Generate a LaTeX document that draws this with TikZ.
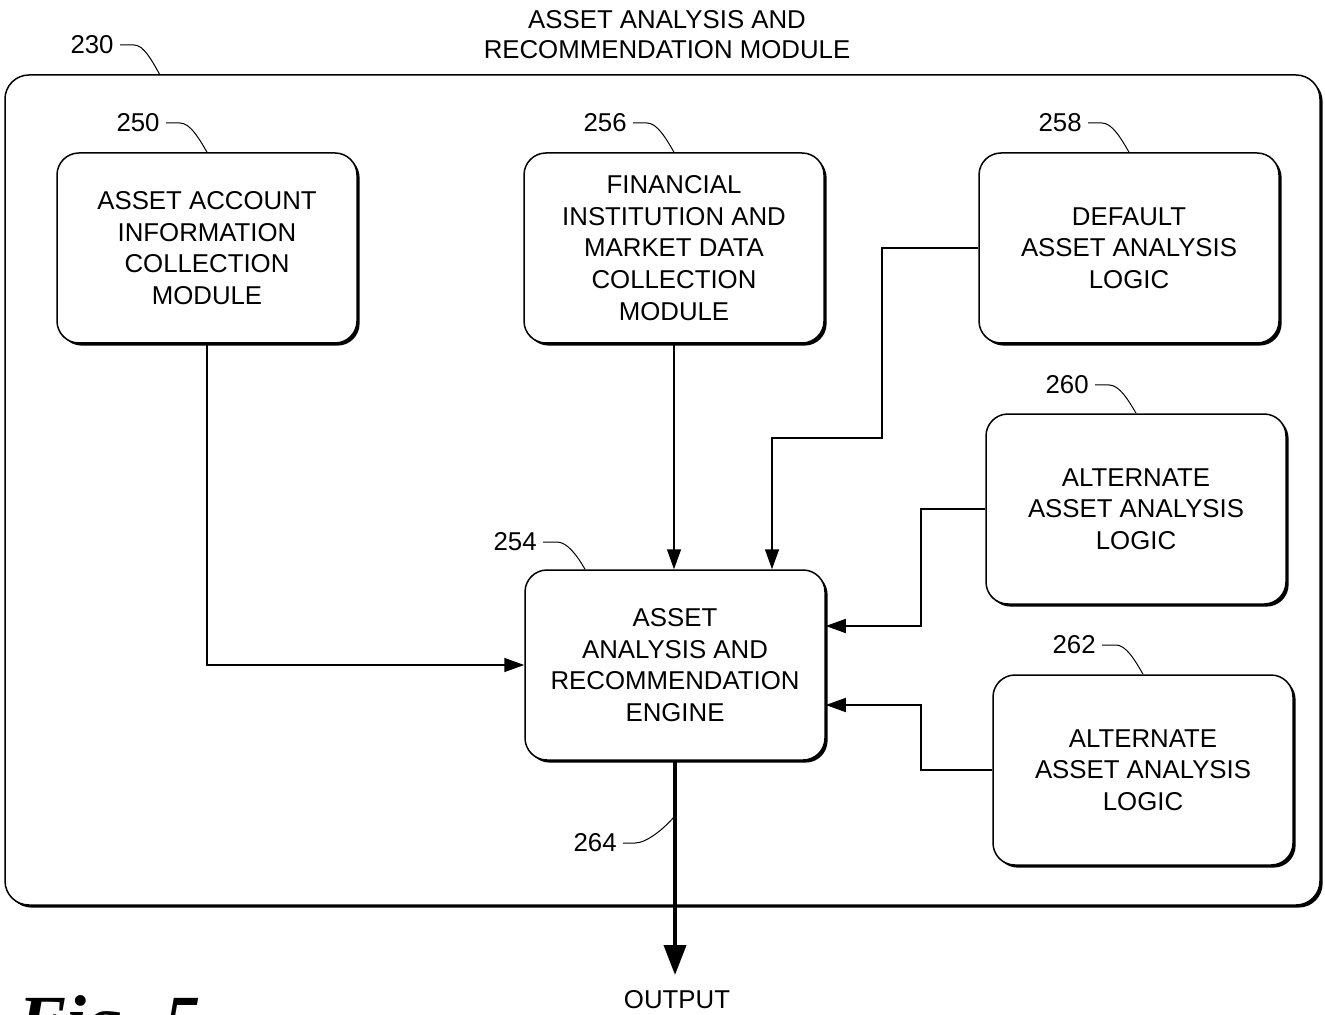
\documentclass[tikz,border=0pt]{standalone}
\usepackage{fontspec}
\setmainfont{Liberation Sans}
\newfontfamily\figfont{Liberation Serif}
\usetikzlibrary{arrows.meta,shadows,calc}
\begin{document}
\begin{tikzpicture}[x=0.5pt,y=-0.5pt,
  txt/.style={font=\fontsize{12.9}{15.8}\selectfont, align=center, inner sep=0pt},
  box/.style={draw, line width=0.75pt, rounded corners=11pt, fill=white,
    minimum width=150pt, minimum height=95pt, align=center, inner sep=2pt,
    font=\fontsize{12.9}{15.8}\selectfont,
    general shadow={fill=black, shadow xshift=1.3pt, shadow yshift=-1.3pt}},
  outer/.style={draw, line width=0.75pt, rounded corners=12pt, fill=white,
    minimum width=657.5pt, minimum height=415pt,
    general shadow={fill=black, shadow xshift=1.3pt, shadow yshift=-1.3pt}},
  conn/.style={line width=0.75pt, -{Triangle[length=10pt,width=7pt]}},
  outarrow/.style={line width=2pt, -{Triangle[length=15pt,width=11pt]}},
  leader/.style={line width=0.5pt}
]
\useasboundingbox (0,0) rectangle (1325,1015);

% outer module
\node[outer] (mod) at (662.5,490) {};
\node[txt, font=\fontsize{12.9}{15}\selectfont] (title) at (667,35) {ASSET ANALYSIS AND\\RECOMMENDATION MODULE};
\node[txt, anchor=east] (l230) at (114,45) {230};
\coordinate (t230) at (160,75);
\draw[leader] ($(l230.east)+(6,0)$) -- ++(14,0) .. controls +(10,0) and +(-8,-14) .. (t230);

% boxes
\node[box] (b250) at (207,248) {ASSET ACCOUNT\\INFORMATION\\COLLECTION\\MODULE};
\node[box] (b256) at (674,248) {FINANCIAL\\INSTITUTION AND\\MARKET DATA\\COLLECTION\\MODULE};
\node[box] (b258) at (1129,248) {DEFAULT\\ASSET ANALYSIS\\LOGIC};
\node[box] (b260) at (1136,509) {ALTERNATE\\ASSET ANALYSIS\\LOGIC};
\node[box] (b262) at (1143,770) {ALTERNATE\\ASSET ANALYSIS\\LOGIC};
\node[box] (b254) at (675,665) {ASSET\\ANALYSIS AND\\RECOMMENDATION\\ENGINE};

% reference numerals
\node[txt, anchor=east] (l250) at (160,123) {250};
\draw[leader] ($(l250.east)+(6,0)$) -- ++(14,0) .. controls +(10,0) and +(-8,-14) .. (b250.north);
\node[txt, anchor=east] (l256) at (627,123) {256};
\draw[leader] ($(l256.east)+(6,0)$) -- ++(14,0) .. controls +(10,0) and +(-8,-14) .. (b256.north);
\node[txt, anchor=east] (l258) at (1082,123) {258};
\draw[leader] ($(l258.east)+(6,0)$) -- ++(14,0) .. controls +(10,0) and +(-8,-14) .. (b258.north);
\node[txt, anchor=east] (l260) at (1089,385) {260};
\draw[leader] ($(l260.east)+(6,0)$) -- ++(14,0) .. controls +(10,0) and +(-8,-14) .. (b260.north);
\node[txt, anchor=east] (l262) at (1096,645) {262};
\draw[leader] ($(l262.east)+(6,0)$) -- ++(14,0) .. controls +(10,0) and +(-8,-14) .. (b262.north);
\node[txt, anchor=east] (l254) at (537,542) {254};
\draw[leader] ($(l254.east)+(6,0)$) -- ++(14,0) .. controls +(10,0) and +(-8,-14) .. ($(b254.north)+(-90,0)$);

% connectors
\draw[conn] (b250.south) |- (b254.west);
\draw[conn] (b256.south) -- (b256.south |- b254.north);
\coordinate (j258) at (882,438);
\draw[conn] (b258.west) -| (j258) -| ($(b254.north)+(97,0)$);
\draw[conn] (b260.west) -| ($(b254.east)+(95,-39)$) -- ($(b254.east)+(0,-39)$);
\draw[conn] (b262.west) -| ($(b254.east)+(95,40)$) -- ($(b254.east)+(0,40)$);

% output
\coordinate (out) at (675,975);
\draw[outarrow] (b254.south) -- (out);
\node[txt] (outlbl) at (677,1000) {OUTPUT};
\node[txt, anchor=east] (l264) at (617,843) {264};
\draw[leader] ($(l264.east)+(6,0)$) -- ++(12,0) .. controls +(12,0) and +(-10,12) .. ($(b254.south)+(0,55)$);

% figure label (cut off by the lower edge, as in the reference)
\node[anchor=base west, inner sep=0pt, font=\figfont\bfseries\itshape\fontsize{36}{40}\selectfont] (fig) at (18,1045) {Fig. 5};
\end{tikzpicture}
\end{document}
